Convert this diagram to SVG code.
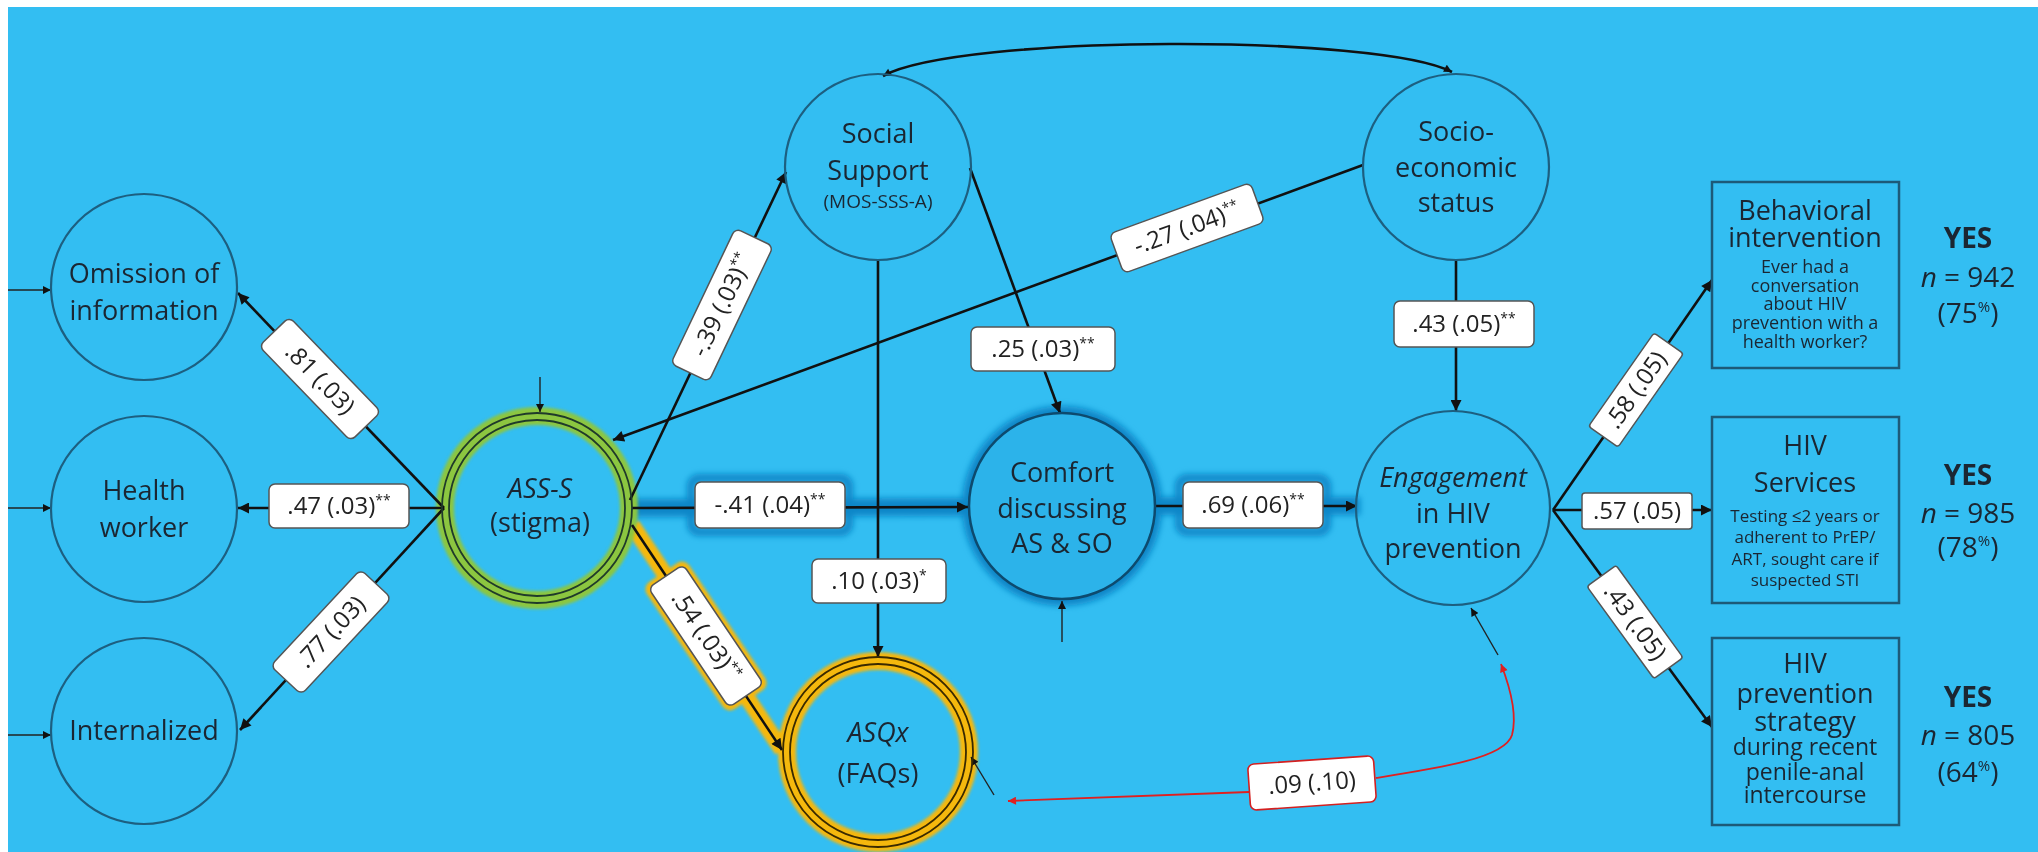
<svg xmlns="http://www.w3.org/2000/svg" width="2038" height="852" viewBox="0 0 2038 852">
<defs>
<style>
.t{font-family:"Open Sans","Liberation Sans",sans-serif;fill:#1b2632;text-anchor:middle}
.n{font-size:27px}
.i{font-style:italic}
.s{font-size:18px}
.lb{font-family:"Open Sans","Liberation Sans",sans-serif;font-size:24px;fill:#222;text-anchor:middle}
.sup{font-size:14px}
.box{fill:#fff;stroke:#555;stroke-width:1.5}
.node{fill:none;stroke:#1d5f80;stroke-width:2.2}
.rect{fill:none;stroke:#1d5a78;stroke-width:2.5}
.e{fill:none;stroke:#111;stroke-width:2.6}
.th{fill:none;stroke:#222;stroke-width:1.4}
.yes{font-family:"Open Sans","Liberation Sans",sans-serif;font-size:28px;fill:#1b2632;text-anchor:middle}
</style>
<marker id="ah" viewBox="0 0 10 10" refX="10" refY="5" markerWidth="13" markerHeight="11" markerUnits="userSpaceOnUse" orient="auto"><path d="M0,0 L10,5 L0,10 z" fill="#111"/></marker>
<marker id="ahs" viewBox="0 0 10 10" refX="10" refY="5" markerWidth="9" markerHeight="8" markerUnits="userSpaceOnUse" orient="auto"><path d="M0,0 L10,5 L0,10 z" fill="#111"/></marker>
<marker id="ahss" viewBox="0 0 10 10" refX="0" refY="5" markerWidth="9" markerHeight="8" markerUnits="userSpaceOnUse" orient="auto"><path d="M10,0 L0,5 L10,10 z" fill="#111"/></marker>
<marker id="ar" viewBox="0 0 10 10" refX="10" refY="5" markerWidth="9" markerHeight="8" markerUnits="userSpaceOnUse" orient="auto"><path d="M0,0 L10,5 L0,10 z" fill="#e02020"/></marker>
<marker id="ars" viewBox="0 0 10 10" refX="0" refY="5" markerWidth="9" markerHeight="8" markerUnits="userSpaceOnUse" orient="auto"><path d="M10,0 L0,5 L10,10 z" fill="#e02020"/></marker>
<filter id="blur" x="-20%" y="-20%" width="140%" height="140%"><feGaussianBlur stdDeviation="3"/></filter>
<filter id="blur2" x="-20%" y="-20%" width="140%" height="140%"><feGaussianBlur stdDeviation="1.5"/></filter>
</defs>
<rect width="2038" height="852" fill="#fff"/>
<rect x="8" y="7" width="2030" height="845" fill="#33bef2"/>

<!-- glows -->
<g id="glows">
<g filter="url(#blur)" stroke="#0a86c8" fill="none">
<line x1="630" y1="508" x2="968" y2="507" stroke-width="18"/>
<line x1="1155" y1="506" x2="1360" y2="506" stroke-width="18"/>
<rect x="691" y="478" width="158" height="54" rx="8" stroke-width="8"/>
<rect x="1179" y="478" width="148" height="54" rx="8" stroke-width="8"/>
<circle cx="1062" cy="506" r="93" stroke-width="14"/>
</g>
<g filter="url(#blur2)" stroke="#f5b80a" fill="none">
<line x1="632" y1="525" x2="782" y2="750" stroke-width="16"/>
<rect x="-76" y="-25" width="152" height="50" rx="8" fill="#f5b80a" transform="translate(706,636) rotate(56)"/>
<circle cx="878" cy="752" r="91" stroke-width="18"/>
</g>
<g filter="url(#blur2)" fill="none">
<circle cx="537" cy="508" r="92" stroke="#8cc63f" stroke-width="18"/>
</g>
</g>

<g id="connectors">
<path class="e" d="M883,76 C960,34 1380,34 1452,72" marker-end="url(#ahs)" marker-start="url(#ahss)" stroke-width="2"/>
<line class="e" x1="444" y1="508" x2="238" y2="293" marker-end="url(#ah)"/>
<line class="e" x1="444" y1="508" x2="238" y2="508" marker-end="url(#ah)"/>
<line class="e" x1="444" y1="508" x2="240" y2="730" marker-end="url(#ah)"/>
<line class="e" x1="630" y1="500" x2="786" y2="172" marker-end="url(#ah)"/>
<line class="e" x1="1363" y1="165" x2="613" y2="440" marker-end="url(#ah)"/>
<line class="e" x1="970" y1="168" x2="1060" y2="413" marker-end="url(#ah)"/>
<line class="e" x1="878" y1="260" x2="878" y2="657" marker-end="url(#ah)"/>
<line class="e" x1="632" y1="508" x2="968" y2="507" marker-end="url(#ah)" stroke-width="3"/>
<line class="e" x1="1155" y1="506" x2="1357" y2="506" marker-end="url(#ah)" stroke-width="3"/>
<line class="e" x1="1456" y1="260" x2="1456" y2="411" marker-end="url(#ah)"/>
<line class="e" x1="632" y1="525" x2="782" y2="750" marker-end="url(#ah)" stroke-width="3"/>
<line class="e" x1="1553" y1="510" x2="1712" y2="280" marker-end="url(#ah)"/>
<line class="e" x1="1553" y1="510" x2="1712" y2="510" marker-end="url(#ah)"/>
<line class="e" x1="1553" y1="510" x2="1712" y2="727" marker-end="url(#ah)"/>
<line class="th" x1="8" y1="290" x2="51" y2="290" marker-end="url(#ahs)"/>
<line class="th" x1="8" y1="508" x2="51" y2="508" marker-end="url(#ahs)"/>
<line class="th" x1="8" y1="735" x2="51" y2="735" marker-end="url(#ahs)"/>
<line class="th" x1="540" y1="377" x2="540" y2="412" marker-end="url(#ahs)"/>
<line class="th" x1="1062" y1="642" x2="1062" y2="601" marker-end="url(#ahs)"/>
<line class="th" x1="1498" y1="655" x2="1471" y2="608" marker-end="url(#ahs)"/>
<line class="th" x1="994" y1="795" x2="971" y2="757" marker-end="url(#ahs)"/>
<path d="M1501,664 C1513,695 1516,720 1512,735 C1505,758 1440,768 1376,778" fill="none" stroke="#e02020" stroke-width="1.8" marker-start="url(#ars)"/>
<line x1="1249" y1="792" x2="1008" y2="801" stroke="#e02020" stroke-width="1.8" marker-end="url(#ar)"/>

<g id="labels">
<g transform="translate(320,379) rotate(46)"><rect class="box" x="-66" y="-21" width="132" height="42" rx="6"/><text class="lb" y="8">.81 (.03)</text></g>
<g transform="translate(339,506)"><rect class="box" x="-70" y="-22" width="140" height="44" rx="6"/><text class="lb" y="8">.47 (.03)<tspan class="sup" dy="-9">**</tspan></text></g>
<g transform="translate(331,632) rotate(-47)"><rect class="box" x="-66" y="-21" width="132" height="42" rx="6"/><text class="lb" y="8">.77 (.03)</text></g>
<g transform="translate(722,305) rotate(-64.5)"><rect class="box" x="-75" y="-21" width="150" height="42" rx="6"/><text class="lb" y="8">-.39 (.03)<tspan class="sup" dy="-9">**</tspan></text></g>
<g transform="translate(1187,228) rotate(-20)"><rect class="box" x="-75" y="-21" width="150" height="42" rx="6"/><text class="lb" y="8">-.27 (.04)<tspan class="sup" dy="-9">**</tspan></text></g>
<g transform="translate(1043,349)"><rect class="box" x="-72" y="-22" width="144" height="44" rx="6"/><text class="lb" y="8">.25 (.03)<tspan class="sup" dy="-9">**</tspan></text></g>
<g transform="translate(879,581)"><rect class="box" x="-67" y="-22" width="134" height="44" rx="6"/><text class="lb" y="8">.10 (.03)<tspan class="sup" dy="-9">*</tspan></text></g>
<g transform="translate(770,505)"><rect class="box" x="-75" y="-23" width="150" height="46" rx="6"/><text class="lb" y="8">-.41 (.04)<tspan class="sup" dy="-9">**</tspan></text></g>
<g transform="translate(1253,505)"><rect class="box" x="-70" y="-23" width="140" height="46" rx="6"/><text class="lb" y="8">.69 (.06)<tspan class="sup" dy="-9">**</tspan></text></g>
<g transform="translate(706,636) rotate(56)"><rect class="box" x="-72" y="-21" width="144" height="42" rx="6"/><text class="lb" y="8">.54 (.03)<tspan class="sup" dy="-9">**</tspan></text></g>
<g transform="translate(1464,324)"><rect class="box" x="-70" y="-23" width="140" height="46" rx="6"/><text class="lb" y="8">.43 (.05)<tspan class="sup" dy="-9">**</tspan></text></g>
<g transform="translate(1636,390) rotate(-55)"><rect class="box" x="-57" y="-18" width="114" height="36" rx="3"/><text class="lb" y="8">.58 (.05)</text></g>
<g transform="translate(1637,511)"><rect class="box" x="-55" y="-18" width="110" height="36" rx="3"/><text class="lb" y="8">.57 (.05)</text></g>
<g transform="translate(1635,622) rotate(54)"><rect class="box" x="-57" y="-18" width="114" height="36" rx="3"/><text class="lb" y="8">.43 (.05)</text></g>
<g transform="translate(1312,783) rotate(-4)"><rect x="-63" y="-23" width="126" height="46" rx="6" fill="#fff" stroke="#d42020" stroke-width="1.6"/><text class="lb" y="8">.09 (.10)</text></g>
</g>
</g>

<g id="omission"><circle class="node" cx="144" cy="287" r="93"/><text class="t n" x="144" y="283">Omission of</text><text class="t n" x="144" y="320">information</text></g>
<g id="health"><circle class="node" cx="144" cy="509" r="93"/><text class="t n" x="144" y="500">Health</text><text class="t n" x="144" y="537">worker</text></g>
<g id="internalized"><circle class="node" cx="144" cy="731" r="93"/><text class="t n" x="144" y="740">Internalized</text></g>
<g id="ass-s"><circle cx="537" cy="508" r="95" fill="none" stroke="#1f3a2a" stroke-width="1.8"/><circle cx="537" cy="508" r="88" fill="none" stroke="#1f3a2a" stroke-width="1.8"/><text class="t n i" x="540" y="498">ASS-S</text><text class="t n" x="540" y="532">(stigma)</text></g>
<g id="social-support"><circle class="node" cx="878" cy="167" r="93"/><text class="t n" x="878" y="143">Social</text><text class="t n" x="878" y="180">Support</text><text class="t" x="878" y="208" font-size="19">(MOS-SSS-A)</text></g>
<g id="socio"><circle class="node" cx="1456" cy="167" r="93"/><text class="t n" x="1456" y="141">Socio-</text><text class="t n" x="1456" y="177">economic</text><text class="t n" x="1456" y="212">status</text></g>
<g id="comfort"><circle cx="1062" cy="506" r="93" fill="#2cb3ea" stroke="#0d4a6e" stroke-width="2.5"/><text class="t n" x="1062" y="482">Comfort</text><text class="t n" x="1062" y="518">discussing</text><text class="t n" x="1062" y="553">AS &amp; SO</text></g>
<g id="engagement"><circle class="node" cx="1453" cy="508" r="97"/><text class="t n i" x="1453" y="487">Engagement</text><text class="t n" x="1453" y="523">in HIV</text><text class="t n" x="1453" y="558">prevention</text></g>
<g id="asqx"><circle cx="878" cy="752" r="95" fill="none" stroke="#3a2a00" stroke-width="1.8"/><circle cx="878" cy="752" r="88" fill="none" stroke="#3a2a00" stroke-width="1.8"/><text class="t n i" x="878" y="742">ASQx</text><text class="t n" x="878" y="783">(FAQs)</text></g>

<g id="behavioral"><rect class="rect" x="1712" y="182" width="187" height="186"/><text class="t n" x="1805" y="220">Behavioral</text><text class="t n" x="1805" y="247">intervention</text><text class="t s" x="1805" y="273">Ever had a</text><text class="t s" x="1805" y="292">conversation</text><text class="t s" x="1805" y="310">about HIV</text><text class="t s" x="1805" y="329">prevention with a</text><text class="t s" x="1805" y="348">health worker?</text></g>
<g id="hiv-services"><rect class="rect" x="1712" y="417" width="187" height="186"/><text class="t n" x="1805" y="455">HIV</text><text class="t n" x="1805" y="492">Services</text><text class="t" font-size="17" x="1805" y="522">Testing ≤2 years or</text><text class="t" font-size="17" x="1805" y="543">adherent to PrEP/</text><text class="t" font-size="17" x="1805" y="565">ART, sought care if</text><text class="t" font-size="17" x="1805" y="586">suspected STI</text></g>
<g id="strategy"><rect class="rect" x="1712" y="638" width="187" height="187"/><text class="t n" x="1805" y="673">HIV</text><text class="t n" x="1805" y="703">prevention</text><text class="t n" x="1805" y="731">strategy</text><text class="t" font-size="23" x="1805" y="755">during recent</text><text class="t" font-size="23" x="1805" y="780">penile-anal</text><text class="t" font-size="23" x="1805" y="803">intercourse</text></g>

<g id="stats">
<text class="yes" x="1968" y="248" font-weight="bold">YES</text><text class="yes" x="1968" y="287"><tspan font-style="italic">n</tspan> = 942</text><text class="yes" x="1968" y="323">(75<tspan font-size="15" dy="-11">%</tspan><tspan dy="11">)</tspan></text>
<text class="yes" x="1968" y="485" font-weight="bold">YES</text><text class="yes" x="1968" y="523"><tspan font-style="italic">n</tspan> = 985</text><text class="yes" x="1968" y="557">(78<tspan font-size="15" dy="-11">%</tspan><tspan dy="11">)</tspan></text>
<text class="yes" x="1968" y="707" font-weight="bold">YES</text><text class="yes" x="1968" y="745"><tspan font-style="italic">n</tspan> = 805</text><text class="yes" x="1968" y="782">(64<tspan font-size="15" dy="-11">%</tspan><tspan dy="11">)</tspan></text>
</g>
</svg>
